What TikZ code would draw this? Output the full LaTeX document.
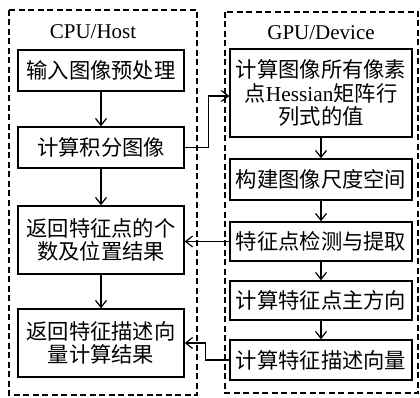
\documentclass[tikz,border=0pt]{standalone}
\usepackage{fontspec}
\setmainfont{Liberation Serif}
\newfontfamily\cjk{Noto Sans CJK SC}
\newfontfamily\lat{Liberation Serif}
\usetikzlibrary{arrows.meta}

\begin{document}
\begin{tikzpicture}[x=1pt,y=1pt,yscale=-1,xscale=1,
  stepbox/.style={draw=black,line width=1.4,inner sep=1pt,align=center,
    font=\cjk\fontsize{21.3}{23.5}\selectfont},
  hostbox/.style={draw=black,line width=1.2,dash pattern=on 6pt off 3.5pt},
  flow/.style={line width=1.2,-{Straight Barb[length=7pt,width=11pt,line width=1.2]}}]

\useasboundingbox (0,0) rectangle (420,398);

% containers
\draw [hostbox] (9,10) rectangle (197,395);
\draw [hostbox] (225,12) rectangle (418,393);
\node (cpu) at (93,32) [font=\fontsize{21}{24}\selectfont] {CPU/Host};
\node (gpu) at (321,33) [font=\fontsize{21}{24}\selectfont] {GPU/Device};

% CPU side
\node (pre)  at (101,70.5) [stepbox,minimum width=166,minimum height=41] {输入图像预处理};
\node (intg) at (101,147.5) [stepbox,minimum width=166,minimum height=41] {计算积分图像};
\node (rpts) at (101,240) [stepbox,minimum width=166,minimum height=68] {返回特征点的个\\数及位置结果};
\node (rdes) at (101,343) [stepbox,minimum width=166,minimum height=68] {返回特征描述向\\量计算结果};

% GPU side
\node (hess) at (321,93) [stepbox,minimum width=182,minimum height=88] {计算图像所有像素\\点{\lat Hessian}矩阵行\\列式的值};
\node (scal) at (321,179.5) [stepbox,minimum width=182,minimum height=41] {构建图像尺度空间};
\node (dete) at (321,241.5) [stepbox,minimum width=182,minimum height=39] {特征点检测与提取};
\node (orie) at (321,300.5) [stepbox,minimum width=182,minimum height=39] {计算特征点主方向};
\node (desc) at (321,360) [stepbox,minimum width=182,minimum height=40] {计算特征描述向量};

% arrows
\draw [flow] (pre) -- (intg);
\draw [flow] (intg) -- (rpts);
\draw [flow] (rpts) -- (rdes);
\draw [flow] (hess) -- (scal);
\draw [flow] (scal) -- (dete);
\draw [flow] (dete) -- (orie);
\draw [flow] (orie) -- (desc);

\draw [flow] (intg.east) -- ++(24,0) |- ([yshift=3pt]hess.west);
\draw [flow] (dete.west) -- (dete.west -| rpts.east);
\draw [flow] (desc.west) -- ++(-24,0) |- (rdes.east);

\end{tikzpicture}
\end{document}
